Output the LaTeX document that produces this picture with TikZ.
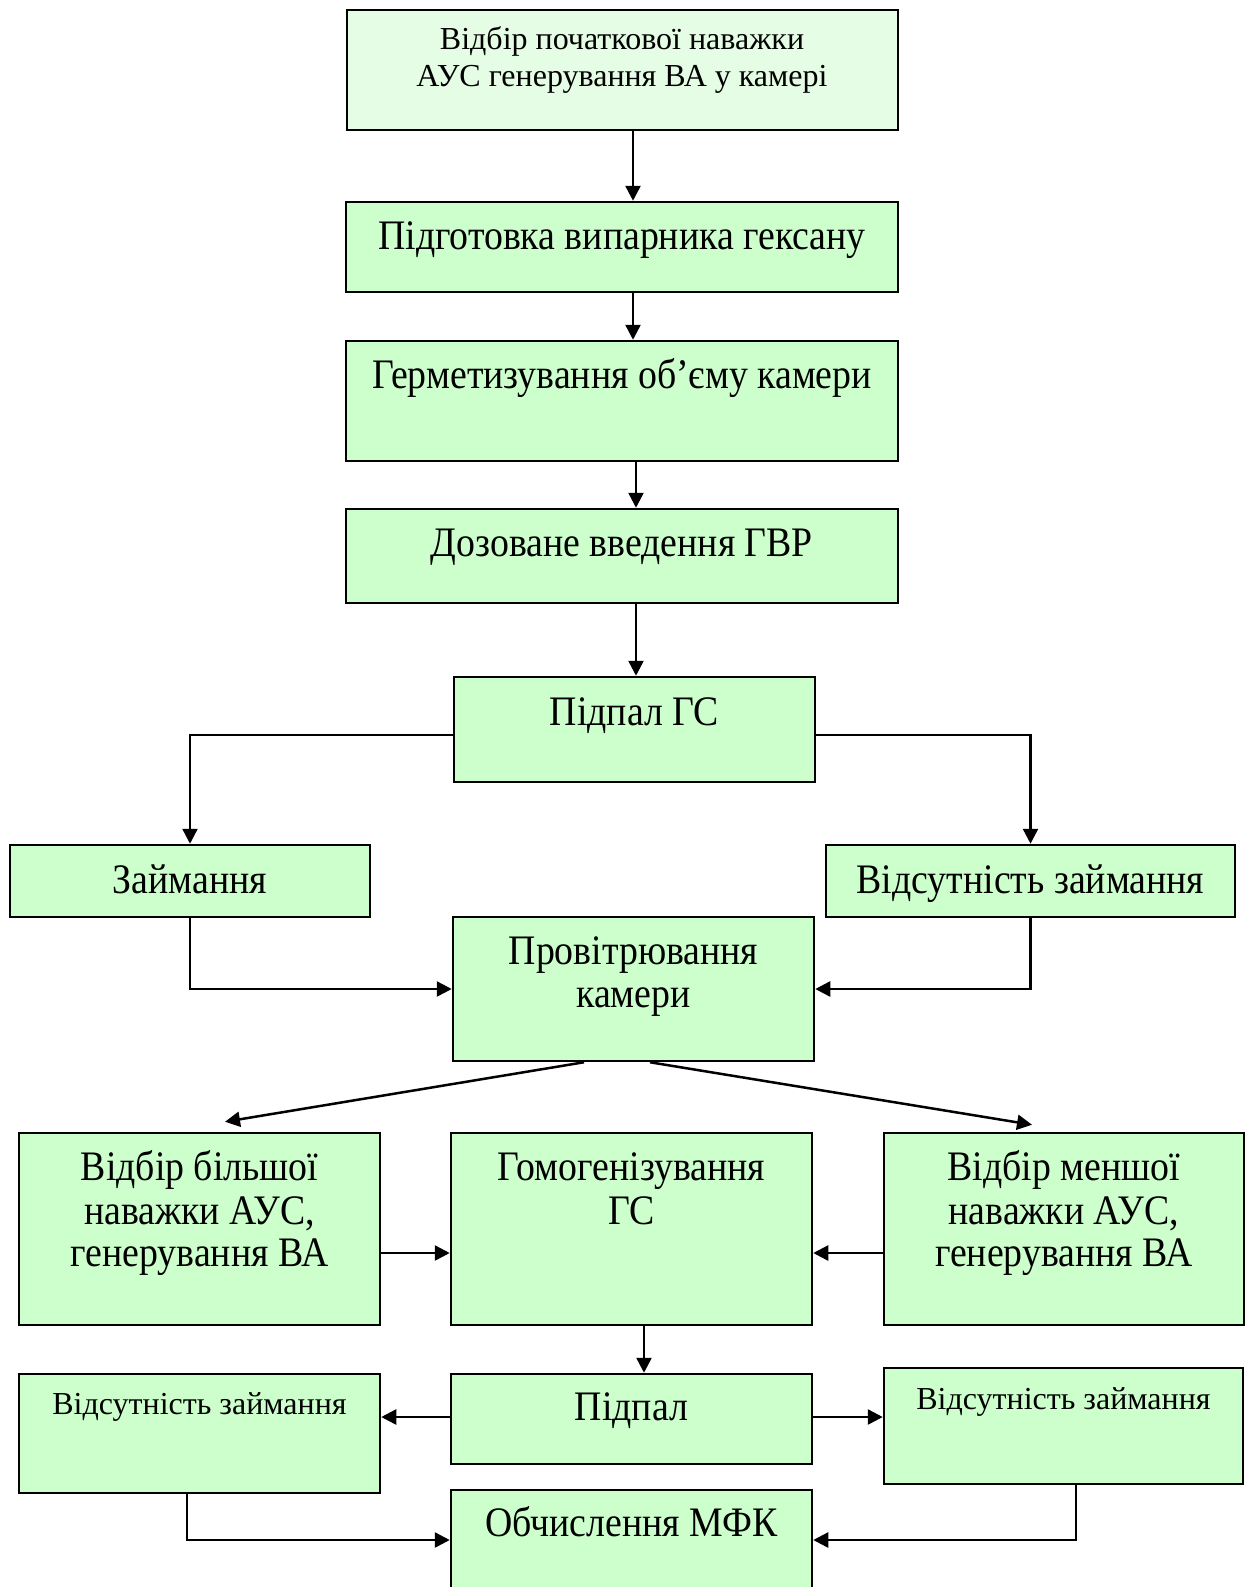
\documentclass[tikz,border=0pt]{standalone}
\usepackage{fontspec}
\setmainfont{Liberation Serif}
\newfontfamily\condf[FakeStretch=0.9]{Liberation Serif}
\usetikzlibrary{arrows.meta}
\definecolor{boxgreen}{HTML}{CCFFCC}
\definecolor{boxpale}{HTML}{E5FCE5}
\begin{document}
\begin{tikzpicture}[x=1pt,y=-1pt,
  box/.style={draw=black, line width=2.5pt, fill=boxgreen, rectangle, inner sep=0pt},
  big/.style={font=\condf\fontsize{42}{43}\selectfont, align=center, inner sep=0pt, anchor=base},
  mid/.style={font=\fontsize{32}{36}\selectfont, align=center, inner sep=0pt, anchor=base},
  arr/.style={line width=2.5pt, -{Triangle[length=15pt,width=15pt]}},
  ln/.style={line width=2.5pt}]
\useasboundingbox (0,0) rectangle (1246,1587);
\clip (0,0) rectangle (1246,1587);
% boxes
\node[box, fill=boxpale, minimum width=551pt, minimum height=120pt] (b1) at (622.5,70) {};
\node[box, minimum width=552pt, minimum height=90pt] (b2) at (622,247) {};
\node[box, minimum width=552pt, minimum height=120pt] (b3) at (622,401) {};
\node[box, minimum width=552pt, minimum height=94pt] (b4) at (622,556) {};
\node[box, minimum width=361pt, minimum height=105pt] (b5) at (634.5,729.5) {};
\node[box, minimum width=360pt, minimum height=72pt] (b6) at (190,881) {};
\node[box, minimum width=409pt, minimum height=72pt] (b7) at (1030.5,881) {};
\node[box, minimum width=361pt, minimum height=144pt] (b8) at (633.5,989) {};
\node[box, minimum width=361pt, minimum height=192pt] (b9) at (199.5,1229) {};
\node[box, minimum width=361pt, minimum height=192pt] (b10) at (631.5,1229) {};
\node[box, minimum width=360pt, minimum height=192pt] (b11) at (1064,1229) {};
\node[box, minimum width=361pt, minimum height=119pt] (b12) at (199.5,1433.5) {};
\node[box, minimum width=361pt, minimum height=90pt] (b13) at (631.5,1419) {};
\node[box, minimum width=359pt, minimum height=116pt] (b14) at (1063.5,1426) {};
\node[box, minimum width=361pt, minimum height=120pt] (b15) at (631.5,1550) {};
% texts
\node[mid] (t1) at (622,50) {Відбір початкової наважки};
\node[mid] (t1b) at (622,86) {АУС генерування ВА у камері};
\node[big] (t2) at (622,249) {Підготовка випарника гексану};
\node[big] (t3) at (622,388) {Герметизування об’єму камери};
\node[big] (t4) at (622,556) {Дозоване введення ГВР};
\node[big] (t5) at (634.5,725) {Підпал ГС};
\node[big] (t6) at (190,893) {Займання};
\node[big] (t7) at (1030.5,893) {Відсутність займання};
\node[big] (t8) at (633.5,964) {Провітрювання};
\node[big] (t8b) at (633.5,1007) {камери};
\node[big] (t9) at (199.5,1180) {Відбір більшої};
\node[big] (t9b) at (199.5,1224) {наважки АУС,};
\node[big] (t9c) at (199.5,1266) {генерування ВА};
\node[big] (t10) at (631.5,1180) {Гомогенізування};
\node[big] (t10b) at (631.5,1224) {ГС};
\node[big] (t11) at (1064,1180) {Відбір меншої};
\node[big] (t11b) at (1064,1224) {наважки АУС,};
\node[big] (t11c) at (1064,1266) {генерування ВА};
\node[mid] (t12) at (199.5,1414) {Відсутність займання};
\node[big] (t13) at (631.5,1420) {Підпал};
\node[mid] (t14) at (1063.5,1409) {Відсутність займання};
\node[big] (t15) at (631.5,1536) {Обчислення МФК};
% connectors
\draw[arr] ([xshift=10.5pt]b1.south) -- ([xshift=10.5pt]b1.south |- b2.north);
\draw[arr] ([xshift=11pt]b2.south) -- ([xshift=11pt]b2.south |- b3.north);
\draw[arr] ([xshift=14pt]b3.south) -- ([xshift=14pt]b3.south |- b4.north);
\draw[arr] ([xshift=14pt]b4.south) -- ([xshift=14pt]b4.south |- b5.north);
\draw[arr] ([yshift=-5.5pt]b5.west) -| (b6.north);
\draw[arr] ([yshift=-5.5pt]b5.east) -| (b7.north);
\draw[arr] (b6.south) |- (b8.west);
\draw[arr] (b7.south) |- (b8.east);
\draw[arr] ([xshift=-49.5pt]b8.south) -- ([xshift=25.5pt,yshift=10pt]b9.north);
\draw[arr] ([xshift=16.5pt]b8.south) -- ([xshift=-32pt,yshift=7pt]b11.north);
\draw[arr] ([yshift=-24pt]b9.east) -- ([yshift=-24pt]b10.west);
\draw[arr] ([yshift=-24pt]b11.west) -- ([yshift=-24pt]b10.east);
\draw[arr] ([xshift=12.5pt]b10.south) -- ([xshift=12.5pt]b10.south |- b13.north);
\draw[arr] ([yshift=2pt]b13.west) -- ([yshift=2pt]b13.west -| b12.east);
\draw[arr] ([yshift=2pt]b13.east) -- ([yshift=2pt]b13.east -| b14.west);
\draw[arr] ([xshift=-12.5pt]b12.south) |- ([yshift=10pt]b15.west);
\draw[arr] ([xshift=12.5pt]b14.south) |- ([yshift=10pt]b15.east);
\end{tikzpicture}
\end{document}
